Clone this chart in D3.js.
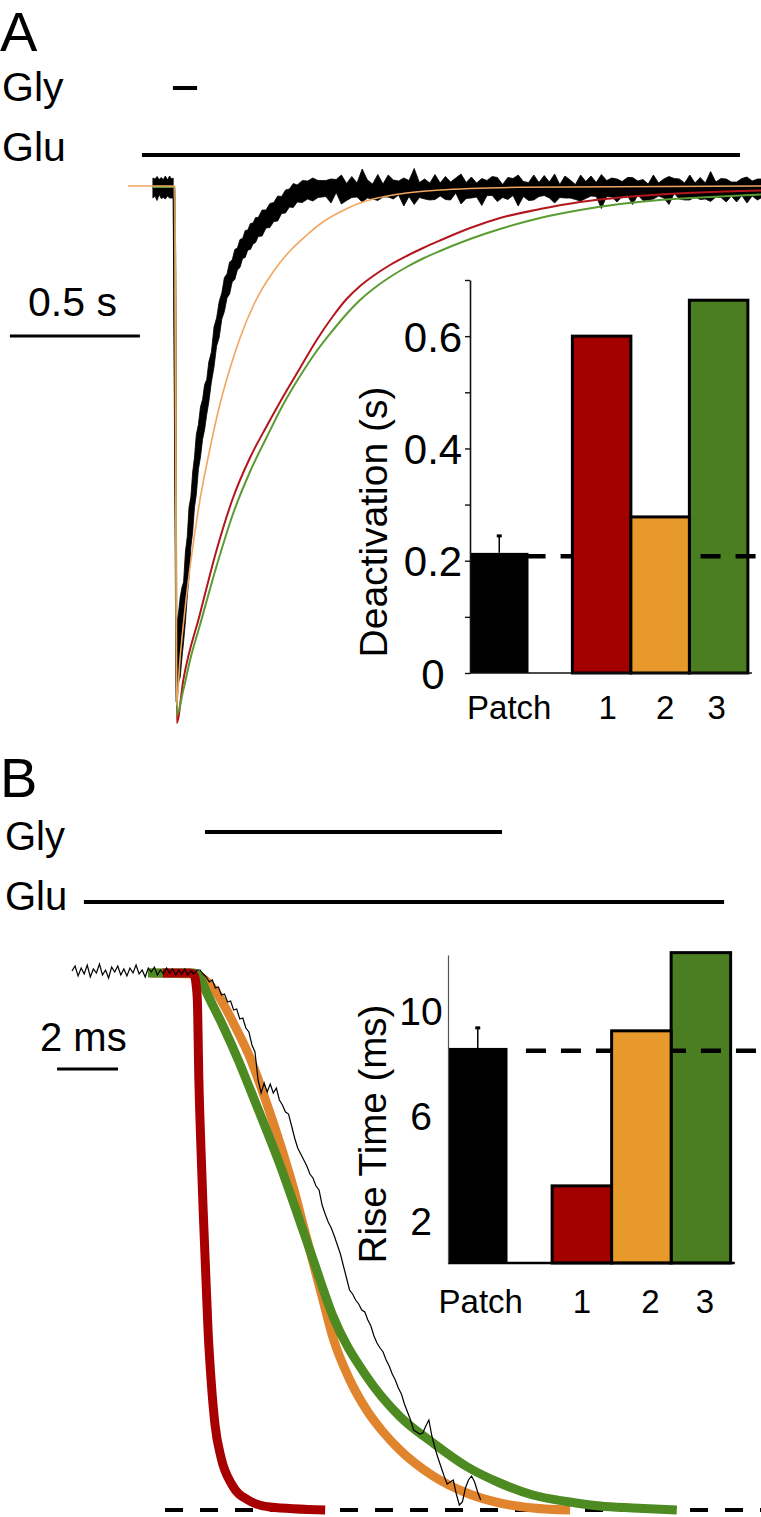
<!DOCTYPE html>
<html><head><meta charset="utf-8">
<script src="https://cdn.jsdelivr.net/npm/d3@7"></script>
<style>
html,body{margin:0;padding:0;background:#fff;}
svg{display:block;font-family:"Liberation Sans",Arial,Helvetica,sans-serif;}
</style></head><body>
<svg id="chart" width="761" height="1517"></svg>
<script>
// ---------------- DATA ----------------
// Panel A: time (s) vs normalised current (arbitrary units)
const aRedT = [-0.085, 0, 0.0065, 0.032, 0.096, 0.16, 0.223, 0.288, 0.353, 0.415, 0.481, 0.545, 0.608, 0.66, 0.712, 0.762, 0.827, 0.891, 0.954, 1.019, 1.135, 1.25, 1.404, 1.558, 1.712, 1.865, 2.019, 2.254];
const aRedI = [0, 0, -107.2, -98.6, -85.4, -72.6, -62.2, -54.2, -47.8, -42, -36.2, -30.6, -25.8, -22.4, -19.8, -17.8, -15.6, -13.8, -12.2, -10.7, -8.2, -6.2, -4.4, -3.0, -2.1, -1.5, -1.1, -0.7];
const aGreenT = [-0.085, 0, 0.0065, 0.032, 0.058, 0.096, 0.16, 0.223, 0.288, 0.353, 0.415, 0.481, 0.545, 0.608, 0.66, 0.712, 0.762, 0.827, 0.891, 0.954, 1.019, 1.135, 1.25, 1.404, 1.558, 1.712, 1.865, 2.019, 2.254];
const aGreenI = [0, 0, -105.6, -100.6, -94.6, -87.6, -75.8, -65.4, -57, -50, -43.6, -37.8, -32.8, -28.6, -25.4, -22.6, -20.4, -18, -16, -14.3, -12.8, -10.4, -8.4, -6.2, -4.6, -3.4, -2.6, -2.1, -1.5];
const aOrangeT = [-0.181, 0, 0.006, 0.019, 0.038, 0.058, 0.096, 0.135, 0.173, 0.212, 0.25, 0.308, 0.377, 0.442, 0.507, 0.569, 0.635, 0.696, 0.762, 0.827, 0.891, 1.019, 1.135, 1.327, 2.254];
const aOrangeI = [0.2, 0.2, -103.6, -94.6, -84.6, -76, -62.6, -52.2, -43.4, -36.2, -30.2, -23, -17, -12.8, -9.6, -7, -5, -3.5, -2.4, -1.7, -1.2, -0.6, -0.3, -0.06, 0.2];
// Black (patch) recording in A: centre and half-width of the noise band
const aBlackT = [-0.085,-0.077,-0.069,-0.061,-0.053,-0.045,-0.037,-0.029,-0.021,-0.013,-0.007,
  0.004,0.008,0.014,0.02,0.027,0.033,0.04,0.047,0.054,0.061,0.068,0.075,0.082,0.09,0.098,0.106,0.114,0.122,0.13,0.14,0.15,0.16,0.17,0.18,0.19,0.2,0.21,0.22,0.23,0.24,0.25,0.26,0.27,0.28,0.29,0.3,0.31,0.32,0.335,0.35,0.365,0.38,0.395,0.41,0.425,0.44,0.455,0.47,0.49,0.51,0.53,0.55];
const aBlackMid = [-0.2,-0.1,-0.3,0,-0.2,-0.3,-0.1,-0.2,0,-0.3,-0.2,
  -97,-95,-92,-90,-87,-85,-80,-76,-71,-67,-63,-59,-55.5,-52,-49,-46.5,-44,-42,-39,-36,-32,-29,-26.5,-23.8,-21.5,-19.8,-18.2,-16.8,-15.5,-14.4,-13.3,-12.3,-11.4,-10.6,-9.9,-9.3,-8.6,-8,-7.2,-6.4,-5.7,-5,-4.3,-3.6,-2.9,-2.2,-1.7,-1.3,-0.9,-0.6,-0.5,-0.4];
const aBlackHalf = [2.0,1.7,2.4,1.5,2.1,1.8,2.3,1.6,2.2,1.9,2.0,
  6,8,7,8,7,6,7,6,7,5,6,5,6,4.5,5,4,4.5,3.5,4,3,4,2.8,3.6,2.6,3.4,2.4,3.2,2.2,3,2.2,2.8,2,2.7,2,2.6,2.1,2.5,1.9,2.6,1.8,2.4,1.9,2.5,1.7,2.3,1.8,2.4,1.7,2.2,1.8,2.3,1.7];
// black baseline after recovery, sampled every 0.02 s from 0.58 s
const aBlackBaseStart = 0.58, aBlackBaseStep = 0.02;
const aBlackBaseMid = [-0.3,-0.8,0.2,-0.5,-1.0,0,-0.6,0.3,-0.4,-0.9,-0.1,-0.7,0.2,-0.5,-0.2,-1.0,-0.3,0.1,-0.6,-0.4,-0.9,0,-0.5,-0.2,-0.8,0.3,-0.4,-0.7,-0.1,-0.6,-1.0,-0.2,0.2,-0.5,-0.8,-0.3,0,-0.7,-0.4,-0.9,-0.1,-0.5,0.3,-0.6,-0.3,-0.8,0,-0.4,-1.0,-0.2,-0.6,0.2,-0.5,-0.9,-0.3,-0.1,-0.7,-0.4,0.1,-0.8,-0.2,-0.6,-1.0,0,-0.5,-0.3,-0.7,0.2,-0.4,-0.9,-0.1,-0.6,-0.3,-0.8,0.1,-0.5,-0.2,-0.7,-0.4,-1.0,0,-0.6,-0.3,-0.5,-0.2];
const aBlackBaseHalf = [1.6,2.4,1.3,2.9,1.7,2.1,1.4,3.3,1.8,1.5,2.6,1.3,2.2,1.9,1.4,2.8,1.6,3.6,1.5,2.0,1.7,2.5,1.3,2.3,1.8,1.5,3.0,1.6,2.1,1.4,2.7,1.5,1.9,2.4,1.3,2.2,1.7,3.1,1.5,1.8,2.5,1.4,2.0,1.6,2.9,1.3,2.2,1.8,1.5,2.6,1.7,2.0,1.4,3.4,1.6,1.9,2.3,1.5,1.8,2.7,1.4,2.1,1.6,2.4,1.3,1.9,2.8,1.5,2.0,1.7,2.5,1.4,2.2,1.6,3.0,1.5,1.9,2.3,1.4,2.0,1.7,2.6,1.5,2.1,1.8];

// Panel B: time (ms) vs normalised current
const bRedT = [2.98, 3.87, 4.0, 4.07, 4.11, 4.16, 4.23, 4.30, 4.38, 4.46, 4.56, 4.69, 4.89, 5.25, 5.77, 6.49, 8.30];
const bRedI = [0, 0, -0.4, -2.4, -5.4, -21.4, -35.4, -47.4, -59.4, -71.4, -81.4, -90.4, -97, -102.4, -105.4, -106.8, -107.4];
const bOrangeT = [2.56, 4.03, 4.36, 4.74, 5.34, 5.84, 6.23, 6.59, 6.95, 7.28, 7.57, 7.90, 8.23, 8.56, 9.11, 9.66, 10.20, 10.75, 11.84, 12.94, 14.03, 15.11, 16.33];
const bOrangeI = [0, -0.2, -1.4, -4.0, -10.6, -17.0, -23.4, -29.8, -36.6, -43.4, -50.2, -57.8, -65.4, -73.0, -81.4, -87.4, -91.8, -95.4, -100.6, -104.0, -106.0, -107.0, -107.4];
const bGreenT = [2.49, 4.0, 4.2, 4.42, 4.96, 5.45, 5.89, 6.33, 6.76, 7.15, 7.53, 7.91, 8.56, 9.66, 10.75, 11.84, 12.94, 14.03, 15.11, 16.22, 17.31, 18.39, 19.83];
const bGreenI = [0, 0, -1.0, -4.0, -10.7, -17.4, -24.0, -30.7, -37.4, -44.0, -50.7, -57.4, -68.7, -80.7, -88.7, -94.0, -98.7, -102.0, -104.4, -105.7, -106.6, -107.0, -107.4];
// black patch recording, one sample every 0.1 ms from t = 0
const bBlackStep = 0.1;
const bBlackI = [0.4,1.4,-0.6,1.0,-0.2,1.6,-0.8,0.8,0,1.8,-0.4,0.6,-1.0,1.2,0.2,1.4,-0.4,0.8,-0.6,1.0,0,1.6,-0.2,0.6,-0.8,1.0,0.2,1.2,-0.4,0.6,-0.2,1.0,0,0.8,-0.4,0.6,-0.2,0.8,-0.4,0.4,-0.2,0.6,
  0.6,-0.2,-0.8,-1.8,-1.4,-3.0,-2.8,-4.4,-4.2,-5.8,-5.6,-7.4,-7.2,-9.2,-9.0,-11.0,-11.8,-14.4,-15.8,-21.4,-24.0,-22.0,-23.8,-22.2,-24.0,-23.0,-25.4,-26.4,-27.8,-28.2,-30.6,-33.0,-35.0,-36.2,-37.4,-38.6,-40.2,-41.0,-42.6,-43.4,-46.4,-48.2,-49.8,-51.0,-52.6,-54.4,-56.2,-58.6,-61.0,-63.4,-64.2,-65.4,-66.2,-67.4,-67.8,-69.4,-70.6,-72.6,-74.0,-75.0,-75.8,-77.4,-78.6,-80.2,-81.4,-83.0,-84.2,-86.2,-87.8,-89.4,-91.4,-91.8,-92.2,-92.0,-90.6,-89.4,-92.6,-95.0,-97.0,-98.8,-100.6,-102.2,-101.8,-101.4,-104.2,-106.4,-105.8,-103.0,-101.4,-100.6,-101.8,-103.8,-105.4];
const bPeakLevel = -107.4, bPeakFrom = 3.05, bPeakTo = 22.6;

// Drug application bars
const stimLabels = ["Gly", "Glu"];
const stimAStart = [-0.008, -0.127], stimAEnd = [0.085, 2.173];   // s
const stimBStart = [4.36, 0.39],     stimBEnd = [14.10, 21.38];   // ms

// Insets
const insetCats = ["Patch", "1", "2", "3"];
const deactMean = [0.214, 0.600, 0.278, 0.664];
const deactPatchErrTop = 0.246;
const deactPatchLevel = 0.208;
const deactTicks = [0, 0.1, 0.2, 0.3, 0.4, 0.5, 0.6, 0.7];
const deactTickLabels = [0, 0.2, 0.4, 0.6];
const riseMean = [8.57, 3.33, 9.22, 12.19];
const risePatchErrTop = 9.37;
const risePatchLevel = 8.46;
const riseTickLabels = [2, 6, 10];

// ---------------- STYLE ----------------
const barColors = ["#000000", "#a30000", "#e8992b", "#4a7e20"];
const traceA = {red: "#b3161c", green: "#5b9b33", orange: "#f0a660"};
const traceB = {red: "#a80000", green: "#4d8a22", orange: "#e0852d"};
const slot = {"Patch": 0, "1": 1.75, "2": 2.75, "3": 3.75};

const svg = d3.select("#chart");

// scales
const xA = d3.scaleLinear().domain([0, 1]).range([175, 435]);
const yA = d3.scaleLinear().domain([0, -100]).range([187, 687]);
const xB = d3.scaleLinear().domain([0, 1]).range([72, 102.5]);
const yB = d3.scaleLinear().domain([0, -100]).range([973, 1473]);

const zip = (t, v) => t.map((d, i) => [d, v[i]]);
const lineGen = (x, y) => d3.line().x(d => x(d[0])).y(d => y(d[1])).curve(d3.curveMonotoneX);

function txt(x, y, s, size) {
  return svg.append("text").attr("x", x).attr("y", y).attr("font-size", size).attr("fill", "#000").text(s);
}
txt(0, 51, "A", 56);
txt(0, 797, "B", 56);

// stimulus bars A
const stimAY = [88, 155], stimALabY = [101, 161];
stimLabels.forEach((l, i) => {
  txt(2, stimALabY[i], l, 41);
  svg.append("line").attr("x1", xA(stimAStart[i])).attr("x2", xA(stimAEnd[i]))
    .attr("y1", stimAY[i]).attr("y2", stimAY[i]).attr("stroke", "#000").attr("stroke-width", 4);
});
// stimulus bars B
const stimBY = [832, 902], stimBLabY = [850, 910];
stimLabels.forEach((l, i) => {
  txt(5, stimBLabY[i], l, 40);
  svg.append("line").attr("x1", xB(stimBStart[i])).attr("x2", xB(stimBEnd[i]))
    .attr("y1", stimBY[i]).attr("y2", stimBY[i]).attr("stroke", "#000").attr("stroke-width", 4);
});

// scale bars
txt(28, 316, "0.5 s", 41);
svg.append("line").attr("x1", xA(-0.635)).attr("x2", xA(-0.635 + 0.5)).attr("y1", 336).attr("y2", 336)
  .attr("stroke", "#000").attr("stroke-width", 3);
txt(40, 1051, "2 ms", 40);
svg.append("line").attr("x1", xB(-0.49)).attr("x2", xB(-0.49 + 2)).attr("y1", 1069).attr("y2", 1069)
  .attr("stroke", "#000").attr("stroke-width", 3);

// ---------- Panel A traces ----------
const blackA = aBlackT.map((t, i) => ({t, hi: aBlackMid[i] + aBlackHalf[i], lo: aBlackMid[i] - aBlackHalf[i]}));
aBlackBaseMid.forEach((m, i) => {
  const h = aBlackBaseHalf[i] !== undefined ? aBlackBaseHalf[i] : 1.8;
  blackA.push({t: aBlackBaseStart + i * aBlackBaseStep, hi: m + h, lo: m - h});
});
svg.append("path").datum(blackA)
  .attr("d", d3.area().x(d => xA(d.t)).y0(d => yA(d.lo)).y1(d => yA(d.hi)).curve(d3.curveLinear))
  .attr("fill", "#000").attr("stroke", "#000").attr("stroke-width", 0.8);

svg.append("path").datum(zip(aRedT, aRedI)).attr("d", lineGen(xA, yA))
  .attr("fill", "none").attr("stroke", traceA.red).attr("stroke-width", 2);
svg.append("path").datum(zip(aGreenT, aGreenI)).attr("d", lineGen(xA, yA))
  .attr("fill", "none").attr("stroke", traceA.green).attr("stroke-width", 2);
svg.append("path").datum(zip(aOrangeT, aOrangeI)).attr("d", lineGen(xA, yA))
  .attr("fill", "none").attr("stroke", traceA.orange).attr("stroke-width", 1.6);

// ---------- Panel B traces ----------
svg.append("line").attr("x1", xB(bPeakFrom)).attr("x2", xB(bPeakTo))
  .attr("y1", yB(bPeakLevel)).attr("y2", yB(bPeakLevel))
  .attr("stroke", "#000").attr("stroke-width", 4).attr("stroke-dasharray", "18,17");
svg.append("path").datum(zip(bOrangeT, bOrangeI)).attr("d", lineGen(xB, yB))
  .attr("fill", "none").attr("stroke", traceB.orange).attr("stroke-width", 9);
svg.append("path").datum(zip(bGreenT, bGreenI)).attr("d", lineGen(xB, yB))
  .attr("fill", "none").attr("stroke", traceB.green).attr("stroke-width", 9);
svg.append("path").datum(zip(bRedT, bRedI)).attr("d", lineGen(xB, yB))
  .attr("fill", "none").attr("stroke", traceB.red).attr("stroke-width", 9);
svg.append("path").datum(bBlackI.map((v, i) => [i * bBlackStep, v]))
  .attr("d", d3.line().x(d => xB(d[0])).y(d => yB(d[1])))
  .attr("fill", "none").attr("stroke", "#000").attr("stroke-width", 1.2);

// ---------- Insets ----------
function drawInset(opts) {
  const {xs, ys, means, errTop, level, levelFrom, levelTo, base, g} = opts;
  const bars = insetCats.map((c, i) => ({c, v: means[i], color: barColors[i]}));
  const bw = xs(1) - xs(0);
  const addBars = sel => sel.join("rect")
    .attr("x", d => xs(slot[d.c])).attr("width", bw)
    .attr("y", d => ys(d.v)).attr("height", d => ys(base) - ys(d.v))
    .attr("fill", d => d.color)
    .attr("stroke", "#000").attr("stroke-width", d => d.c === "Patch" ? 0 : 3);
  // green bar sits under the dashed reference line; the others above it
  addBars(g.append("g").selectAll("rect").data(bars.filter(d => d.c === "3")));
  g.append("line").attr("x1", xs(levelFrom)).attr("x2", xs(levelTo))
    .attr("y1", ys(level)).attr("y2", ys(level))
    .attr("stroke", "#000").attr("stroke-width", 4.5).attr("stroke-dasharray", "20,15");
  addBars(g.append("g").selectAll("rect").data(bars.filter(d => d.c !== "3")));
  const cx = xs(slot["Patch"] + 0.5);
  g.append("line").attr("x1", cx).attr("x2", cx).attr("y1", ys(means[0])).attr("y2", ys(errTop))
    .attr("stroke", "#000").attr("stroke-width", 1.5);
  g.append("line").attr("x1", cx - 2.5).attr("x2", cx + 2.5).attr("y1", ys(errTop) + 1).attr("y2", ys(errTop) + 1)
    .attr("stroke", "#000").attr("stroke-width", 3);
}

// Inset A
const xIA = d3.scaleLinear().domain([0, 1]).range([470, 528.5]);
const yIA = d3.scaleLinear().domain([0, 0.7]).range([673, 280]);
const gA = svg.append("g");
drawInset({xs: xIA, ys: yIA, means: deactMean, errTop: deactPatchErrTop, level: deactPatchLevel,
  levelFrom: 0.95, levelTo: 4.97, base: 0, g: gA});
gA.append("line").attr("x1", xIA(0)).attr("x2", xIA(4.82)).attr("y1", yIA(0)).attr("y2", yIA(0))
  .attr("stroke", "#111").attr("stroke-width", 1.6);
const axA = gA.append("g").attr("transform", `translate(${xIA(0)},0)`)
  .call(d3.axisLeft(yIA).tickValues(deactTicks).tickSize(5).tickSizeOuter(0)
    .tickFormat(d => deactTickLabels.some(v => Math.abs(v - d) < 1e-9) ? (d === 0 ? "0" : d3.format(".1f")(d)) : ""));
axA.select(".domain").attr("stroke", "#111").attr("stroke-width", 1.6);
axA.selectAll(".tick line").attr("stroke", "#111").attr("stroke-width", 1.4);
axA.selectAll(".tick text").attr("font-size", 42).attr("font-family", '"Liberation Sans",Arial,sans-serif')
  .attr("fill", "#000").attr("text-anchor", "middle").attr("x", -37).attr("dy", "0.36em");
gA.append("text").attr("transform", "translate(387,522) rotate(-90)").attr("text-anchor", "middle")
  .attr("font-size", 39).text("Deactivation (s)");
const labNudgeA = [10, 6, 5, -2];
insetCats.forEach((c, i) => {
  gA.append("text").attr("x", xIA(slot[c] + 0.5) + labNudgeA[i]).attr("y", 719)
    .attr("text-anchor", "middle").attr("font-size", 33).text(c);
});

// Inset B
const xIB = d3.scaleLinear().domain([0, 1]).range([448, 507.5]);
const yIB = d3.scaleLinear().domain([0.4, 12.1]).range([1263, 955]);
const gB = svg.append("g");
drawInset({xs: xIB, ys: yIB, means: riseMean, errTop: risePatchErrTop, level: risePatchLevel,
  levelFrom: 1.31, levelTo: 5.3, base: 0.4, g: gB});
gB.append("line").attr("x1", xIB(0)).attr("x2", xIB(4.82)).attr("y1", yIB(0.4)).attr("y2", yIB(0.4))
  .attr("stroke", "#000").attr("stroke-width", 2.5);
const axB = gB.append("g").attr("transform", `translate(${xIB(0)},0)`)
  .call(d3.axisLeft(yIB).tickValues(riseTickLabels).tickSize(0).tickSizeOuter(0).tickFormat(d3.format("d")));
axB.select(".domain").attr("stroke", "#555").attr("stroke-width", 1.2);
axB.selectAll(".tick text").attr("font-size", 39).attr("font-family", '"Liberation Sans",Arial,sans-serif')
  .attr("fill", "#000").attr("text-anchor", "middle").attr("x", -27).attr("dy", "0.36em");
gB.append("text").attr("transform", "translate(386,1134) rotate(-90)").attr("text-anchor", "middle")
  .attr("font-size", 38.5).text("Rise Time (ms)");
const labNudgeB = [3, 0, 9, 4];
insetCats.forEach((c, i) => {
  gB.append("text").attr("x", xIB(slot[c] + 0.5) + labNudgeB[i]).attr("y", 1313)
    .attr("text-anchor", "middle").attr("font-size", 33).text(c);
});
</script></body></html>
